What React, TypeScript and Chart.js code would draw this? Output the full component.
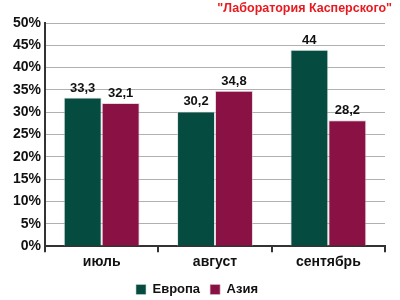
import React, { useEffect, useRef } from "react";
import { Chart, registerables } from "chart.js";

Chart.register(...registerables);

const categories = ["июль", "август", "сентябрь"];
const europe = [33.3, 30.2, 44];
const asia = [32.1, 34.8, 28.2];
const seriesNames = ["Европа", "Азия"];
const titleText = "\"Лаборатория Касперского\"";
const yTicks = { min: 0, max: 50, step: 5 };

const FONT = "Liberation Sans, Arial, sans-serif";

const valueLabels = {
  id: "valueLabels",
  afterDatasetsDraw(chart: any) {
    const ctx = chart.ctx;
    ctx.save();
    ctx.font = `bold 13px ${FONT}`;
    ctx.fillStyle = "#111";
    ctx.textAlign = "center";
    ctx.textBaseline = "bottom";
    chart.data.datasets.forEach((ds: any, i: number) => {
      const meta = chart.getDatasetMeta(i);
      meta.data.forEach((bar: any, j: number) => {
        const v = ds.data[j];
        ctx.fillText(String(v).replace(".", ","), bar.x, bar.y - 3);
      });
    });
    // title
    ctx.font = `bold 12.5px ${FONT}`;
    ctx.fillStyle = "#e8191f";
    ctx.textAlign = "right";
    ctx.textBaseline = "middle";
    ctx.fillText(titleText, 392, 9);
    ctx.restore();
  },
};

export default function App() {
  const ref = useRef<HTMLCanvasElement>(null);
  useEffect(() => {
    document.body.style.margin = "0";
    const chart = new Chart(ref.current!, {
      type: "bar",
      data: {
        labels: categories,
        datasets: [
          {
            label: seriesNames[0],
            data: europe,
            backgroundColor: "#064b3f",
            borderColor: "rgba(200,210,210,0.6)",
            borderWidth: 1,
            categoryPercentage: 0.67,
            barPercentage: 1,
          },
          {
            label: seriesNames[1],
            data: asia,
            backgroundColor: "#8a1143",
            borderColor: "rgba(210,190,200,0.6)",
            borderWidth: 1,
            categoryPercentage: 0.67,
            barPercentage: 1,
          },
        ],
      },
      options: {
        animation: false,
        responsive: false,
        layout: { padding: { left: 9, right: 15, top: 23, bottom: -6 } },
        plugins: {
          title: { display: false },
          legend: {
            position: "bottom",
            labels: {
              boxWidth: 10,
              boxHeight: 10,
              color: "#111",
              font: { family: FONT, size: 13, weight: "bold" },
              padding: 10,
            },
          },
          tooltip: { enabled: false },
        },
        scales: {
          x: {
            grid: {
              drawOnChartArea: false,
              drawTicks: true,
              tickLength: 6,
              offset: true,
              color: "#333",
              lineWidth: 2,
            },
            border: { color: "#333", width: 2 },
            ticks: {
              color: "#111",
              font: { family: FONT, size: 14, weight: "bold" },
              padding: 2,
            },
          },
          y: {
            min: yTicks.min,
            max: yTicks.max,
            grid: { color: "#b0b0b0", lineWidth: 1, drawTicks: false },
            border: { color: "#333", width: 2 },
            ticks: {
              stepSize: yTicks.step,
              color: "#111",
              padding: 4,
              font: { family: FONT, size: 14, weight: "bold" },
              callback: (v: any) => v + "%",
            },
          },
        },
      },
      plugins: [valueLabels],
    });
    return () => chart.destroy();
  }, []);
  return (
    <div style={{ width: 400, height: 300 }}>
      <canvas ref={ref} width={400} height={300} />
    </div>
  );
}
